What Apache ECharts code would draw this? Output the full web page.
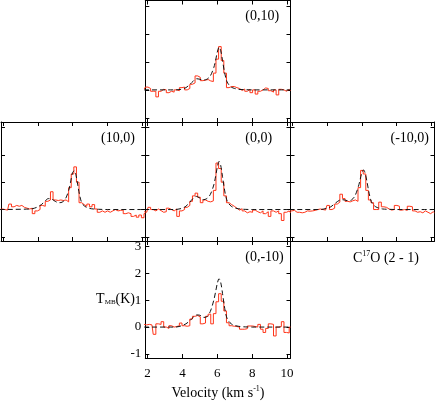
<!DOCTYPE html>
<html><head><meta charset="utf-8">
<script src="https://cdn.jsdelivr.net/npm/echarts@6/dist/echarts.min.js"></script>
<style>html,body{margin:0;padding:0;background:#fff}#c{width:436px;height:402px}</style>
</head><body><div id="c"></div>
<script>
// Channel velocities (km/s)
const velocity = [1.80,1.95,2.10,2.25,2.40,2.55,2.70,2.85,3.00,3.15,3.30,3.45,3.60,3.75,3.90,4.05,4.20,4.35,4.50,4.65,4.80,4.95,5.10,5.25,5.40,5.55,5.70,5.85,6.00,6.15,6.30,6.45,6.60,6.75,6.90,7.05,7.20,7.35,7.50,7.65,7.80,7.95,8.10,8.25,8.40,8.55,8.70,8.85,9.00,9.15,9.30,9.45,9.60,9.75,9.90,10.05,10.20];
// Observed spectra (K)
const obs_0_10 = [0.02,0.10,0.05,-0.05,-0.05,-0.25,-0.05,0.02,0.00,-0.10,-0.05,-0.08,0.00,-0.03,0.08,0.10,0.00,0.05,0.20,0.25,0.50,0.45,0.33,0.35,0.37,0.32,0.30,0.60,1.10,1.55,1.05,0.60,0.08,0.12,0.12,0.08,0.05,-0.02,0.03,-0.05,0.02,-0.10,0.00,-0.15,-0.05,0.00,0.07,0.05,-0.03,-0.08,0.00,-0.18,0.02,0.00,-0.05,0.02,-0.03];
const obs_10_0 = [0.00,0.02,0.00,-0.02,0.20,0.10,0.15,0.12,0.15,0.08,0.05,0.02,0.05,-0.15,-0.05,0.00,0.15,0.12,0.30,0.35,0.65,0.35,0.33,0.35,0.33,0.35,0.28,0.80,1.30,1.56,1.00,0.25,0.18,0.12,0.20,0.10,0.18,0.02,-0.10,-0.05,-0.10,-0.05,-0.10,-0.05,0.00,-0.05,-0.03,-0.02,-0.15,-0.12,-0.15,-0.25,-0.20,-0.28,-0.20,-0.30,-0.15];
const obs_0_0 = [-0.08,-0.10,0.08,0.00,-0.05,0.02,-0.04,-0.10,-0.08,0.05,0.00,-0.05,0.02,-0.25,-0.05,0.00,0.08,0.15,0.30,0.50,0.60,0.45,0.25,0.35,0.30,0.28,0.32,0.70,1.70,1.50,1.00,0.50,0.25,0.18,0.12,0.05,-0.02,0.03,-0.05,-0.12,-0.08,-0.10,-0.02,-0.08,-0.12,-0.05,-0.15,-0.08,-0.25,-0.05,-0.10,-0.05,-0.15,-0.40,-0.10,-0.05,-0.12];
const obs_m10_0 = [-0.05,-0.05,-0.03,-0.10,-0.10,-0.12,-0.10,-0.05,-0.06,-0.05,-0.03,0.00,0.02,0.00,-0.02,0.15,0.00,0.05,0.20,0.27,0.56,0.40,0.30,0.28,0.32,0.35,0.30,0.80,1.43,1.30,0.70,0.35,0.25,0.00,0.00,0.27,0.10,0.08,0.02,-0.02,0.00,0.15,0.12,-0.02,0.00,-0.03,0.12,0.10,-0.05,-0.10,-0.08,-0.12,-0.05,-0.10,-0.15,-0.08,-0.12];
const obs_0_m10 = [0.10,0.08,0.10,0.08,-0.27,0.12,0.10,0.20,0.00,-0.05,0.05,0.00,0.02,0.05,0.15,0.05,0.03,0.05,0.30,0.40,0.43,0.38,0.12,0.15,0.40,0.48,0.12,0.50,0.94,1.24,0.96,0.60,0.16,0.05,0.03,0.02,0.00,-0.08,-0.08,-0.06,0.04,0.04,0.02,0.00,0.10,-0.08,-0.20,-0.05,0.12,0.10,-0.33,0.00,0.02,0.20,-0.20,-0.22,0.00];
// Model spectra (K)
const modelVelocity = [1.8,3.6,3.8,4.0,4.2,4.4,4.6,4.8,5.0,5.2,5.4,5.6,5.8,5.9,6.0,6.1,6.2,6.3,6.4,6.5,6.6,6.8,7.0,7.2,7.5,8.0,10.2];
const model_0_10 = [0,0,0.01,0.03,0.08,0.18,0.30,0.40,0.38,0.35,0.38,0.50,0.80,1.05,1.35,1.53,1.40,1.05,0.68,0.40,0.24,0.10,0.05,0.02,0.01,0,0];
const model_10_0 = [0,0.02,0.05,0.10,0.18,0.30,0.40,0.38,0.30,0.25,0.27,0.40,0.75,1.05,1.35,1.42,1.25,0.90,0.55,0.30,0.18,0.08,0.04,0.02,0.01,0,0];
const model_0_0 = [0,0,0.02,0.05,0.12,0.25,0.40,0.48,0.42,0.36,0.40,0.55,0.90,1.20,1.55,1.76,1.60,1.20,0.78,0.45,0.27,0.12,0.06,0.03,0.01,0,0];
const model_m10_0 = [0,0,0.02,0.05,0.10,0.20,0.30,0.36,0.35,0.32,0.35,0.50,0.85,1.10,1.35,1.45,1.30,1.00,0.65,0.38,0.22,0.10,0.05,0.02,0.01,0,0];
const model_0_m10 = [0,0,0.02,0.06,0.12,0.22,0.35,0.45,0.44,0.36,0.38,0.58,1.00,1.30,1.62,1.80,1.65,1.25,0.80,0.45,0.27,0.12,0.06,0.03,0.01,0,0];
// Ticks
const xTicks = [2,4,6,8,10];
const yTicks = [-1,0,1,2,3];
const panelLabels = ['(0,10)','(10,0)','(0,0)','(-10,0)','(0,-10)'];

const FONT = 'Liberation Serif';
const panels = [
  {label: panelLabels[0], obs: obs_0_10, model: model_0_10, left:145.3, top:0.5, width:145.2, height:121.5},
  {label: panelLabels[1], obs: obs_10_0, model: model_10_0, left:1, top:122, width:144.3, height:119},
  {label: panelLabels[2], obs: obs_0_0, model: model_0_0, left:145.3, top:122, width:145.2, height:119},
  {label: panelLabels[3], obs: obs_m10_0, model: model_m10_0, left:290.5, top:122, width:144, height:119},
  {label: panelLabels[4], obs: obs_0_m10, model: model_0_m10, left:145.3, top:241, width:145.2, height:117, labels:true}
];

const grid=[], xAxis=[], yAxis=[], series=[], graphic=[];
const lineStyle = {color:'#000', width:1};
panels.forEach((p,i)=>{
  grid.push({left:p.left, top:p.top, width:p.width, height:p.height, containLabel:false});
  const tick = {show:true, inside:true, length:4, lineStyle:{color:'#000', width:1}, customValues:xTicks};
  const ytick = {show:true, inside:true, length:4, lineStyle:{color:'#000', width:1}, customValues:yTicks};
  const lab = {fontFamily:FONT, fontSize:13, color:'#000'};
  xAxis.push({type:'value', gridIndex:i, position:'bottom', min:1.87, max:10.2,
    axisLine:{show:true, onZero:false, lineStyle}, axisTick:tick, splitLine:{show:false},
    axisLabel: p.labels ? Object.assign({show:true, margin:9, customValues:xTicks}, lab) : {show:false}});
  xAxis.push({type:'value', gridIndex:i, position:'top', min:1.87, max:10.2,
    axisLine:{show:true, onZero:false, lineStyle}, axisTick:tick, splitLine:{show:false}, axisLabel:{show:false}});
  yAxis.push({type:'value', gridIndex:i, position:'left', min:-1.15, max:3.2,
    axisLine:{show:true, onZero:false, lineStyle}, axisTick:ytick, splitLine:{show:false},
    axisLabel: p.labels ? Object.assign({show:true, margin:4, customValues:yTicks}, lab) : {show:false}});
  yAxis.push({type:'value', gridIndex:i, position:'right', min:-1.15, max:3.2,
    axisLine:{show:true, onZero:false, lineStyle}, axisTick:ytick, splitLine:{show:false}, axisLabel:{show:false}});
  series.push({type:'line', xAxisIndex:2*i, yAxisIndex:2*i, step:'middle', symbol:'none', silent:true,
    data: velocity.map((v,k)=>[v, p.obs[k]]), lineStyle:{color:'#ff3418', width:1}, z:2});
  series.push({type:'line', xAxisIndex:2*i, yAxisIndex:2*i, symbol:'none', smooth:0.3, silent:true,
    data: modelVelocity.map((v,k)=>[v, p.model[k]]), lineStyle:{color:'#111', width:1, type:[5,3]}, z:3});
  graphic.push({type:'text', left:p.left+100, top:p.top+9, style:{text:p.label, font:'14px "'+FONT+'"', fill:'#000'}});
});

// helper for sub/superscript runs
const mctx = document.createElement('canvas').getContext('2d');
function runs(parts, x, yMid, align){
  let total = 0;
  parts.forEach(pt=>{ mctx.font = pt.size+'px "'+FONT+'"'; pt.w = mctx.measureText(pt.text).width; total += pt.w; });
  let cx = align==='right' ? x-total : (align==='center' ? x-total/2 : x);
  parts.forEach(pt=>{
    graphic.push({type:'text', x:cx, y:yMid+(pt.dy||0), style:{text:pt.text, font:pt.size+'px "'+FONT+'"', fill:'#000', verticalAlign:'middle', align:'left'}});
    cx += pt.w;
  });
}
runs([{text:'T',size:14},{text:'MB',size:7,dy:3},{text:'(K)',size:14}], 135, 299, 'right');
runs([{text:'Velocity (km s',size:14},{text:'-1',size:8,dy:-4},{text:')',size:14}], 218, 393, 'center');
runs([{text:'C',size:14},{text:'17',size:8,dy:-4},{text:'O (2 - 1)',size:14}], 353, 258, 'left');

const chart = echarts.init(document.getElementById('c'), null, {renderer:'canvas'});
chart.setOption({animation:false, backgroundColor:'#fff', grid, xAxis, yAxis, series, graphic});
</script></body></html>
